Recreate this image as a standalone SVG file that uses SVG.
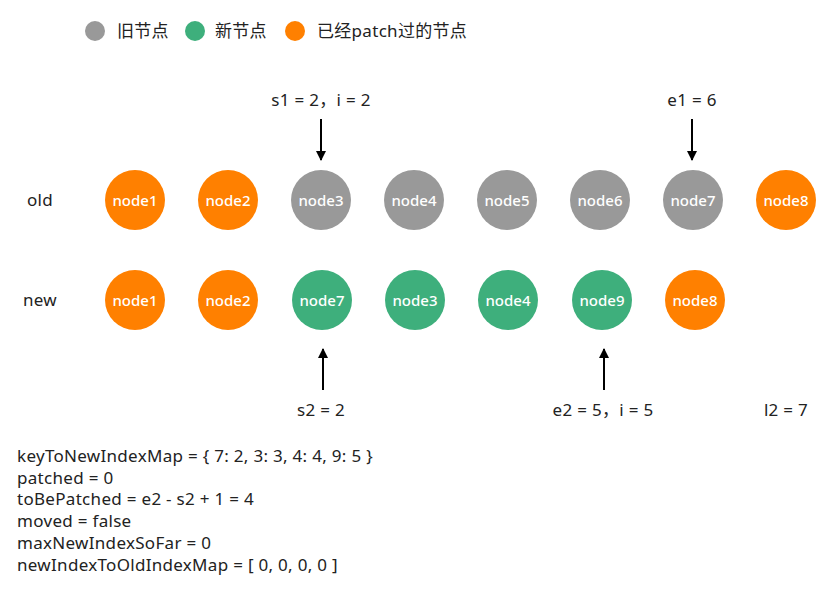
<svg xmlns="http://www.w3.org/2000/svg" width="831" height="591" viewBox="0 0 831 591">
<style>
text{font-family:"Noto Sans","Noto Sans CJK SC",sans-serif;fill:#222}
.t{font-size:17px;letter-spacing:0.3px}
.n{font-size:15px;font-weight:500;fill:#fff;text-anchor:middle;dominant-baseline:central}
.c{text-anchor:middle}
.gray{fill:#999999}
.green{fill:#3eaf7c}
.orange{fill:#ff8000}
.ar{stroke:#000;stroke-width:2;fill:none;marker-end:url(#ah)}
</style>
<defs>
<marker id="ah" viewBox="0 0 10 10" refX="9" refY="5" markerWidth="5" markerHeight="5" orient="auto"><path d="M0,0 L10,5 L0,10 z" fill="#000"/></marker>
</defs>
<rect width="831" height="591" fill="#fff"/>
<g id="legend">
<circle cx="95" cy="31" r="10" class="gray"/><text x="117" y="37" class="t">旧节点</text>
<circle cx="195" cy="31" r="10" class="green"/><text x="215" y="37" class="t">新节点</text>
<circle cx="295" cy="31" r="10" class="orange"/><text x="317" y="37" class="t">已经patch过的节点</text>
</g>
<text x="40" y="206" class="t c">old</text>
<text x="40" y="306" class="t c">new</text>
<g id="old1"><circle cx="135" cy="200" r="30" class="orange"/><text x="135" y="200" class="n">node1</text></g>
<g id="old2"><circle cx="228" cy="200" r="30" class="orange"/><text x="228" y="200" class="n">node2</text></g>
<g id="old3"><circle cx="321" cy="200" r="30" class="gray"/><text x="321" y="200" class="n">node3</text></g>
<g id="old4"><circle cx="414" cy="200" r="30" class="gray"/><text x="414" y="200" class="n">node4</text></g>
<g id="old5"><circle cx="507" cy="200" r="30" class="gray"/><text x="507" y="200" class="n">node5</text></g>
<g id="old6"><circle cx="600" cy="200" r="30" class="gray"/><text x="600" y="200" class="n">node6</text></g>
<g id="old7"><circle cx="693" cy="200" r="30" class="gray"/><text x="693" y="200" class="n">node7</text></g>
<g id="old8"><circle cx="786" cy="200" r="30" class="orange"/><text x="786" y="200" class="n">node8</text></g>
<g id="new1"><circle cx="135" cy="300" r="30" class="orange"/><text x="135" y="300" class="n">node1</text></g>
<g id="new2"><circle cx="228" cy="300" r="30" class="orange"/><text x="228" y="300" class="n">node2</text></g>
<g id="new7"><circle cx="322" cy="300" r="30" class="green"/><text x="322" y="300" class="n">node7</text></g>
<g id="new3"><circle cx="415" cy="300" r="30" class="green"/><text x="415" y="300" class="n">node3</text></g>
<g id="new4"><circle cx="508" cy="300" r="30" class="green"/><text x="508" y="300" class="n">node4</text></g>
<g id="new9"><circle cx="602" cy="300" r="30" class="green"/><text x="602" y="300" class="n">node9</text></g>
<g id="new8"><circle cx="695" cy="300" r="30" class="orange"/><text x="695" y="300" class="n">node8</text></g>
<g id="connectors">
<line x1="321" y1="119" x2="321" y2="160" class="ar"/>
<line x1="692" y1="119" x2="692" y2="160" class="ar"/>
<line x1="323" y1="390" x2="323" y2="349" class="ar"/>
<line x1="604" y1="390" x2="604" y2="349" class="ar"/>
</g>
<text x="321" y="106" class="t c">s1 = 2，i = 2</text>
<text x="692" y="106" class="t c">e1 = 6</text>
<text x="321" y="416" class="t c">s2 = 2</text>
<text x="603" y="416" class="t c">e2 = 5，i = 5</text>
<text x="786" y="416" class="t c">l2 = 7</text>
<g>
<text x="17" y="462" class="t">keyToNewIndexMap = { 7: 2, 3: 3, 4: 4, 9: 5 }</text>
<text x="17" y="484" class="t">patched = 0</text>
<text x="17" y="505" class="t">toBePatched = e2 - s2 + 1 = 4</text>
<text x="17" y="527" class="t">moved = false</text>
<text x="17" y="549" class="t">maxNewIndexSoFar = 0</text>
<text x="17" y="571" class="t">newIndexToOldIndexMap = [ 0, 0, 0, 0 ]</text>
</g>
</svg>
